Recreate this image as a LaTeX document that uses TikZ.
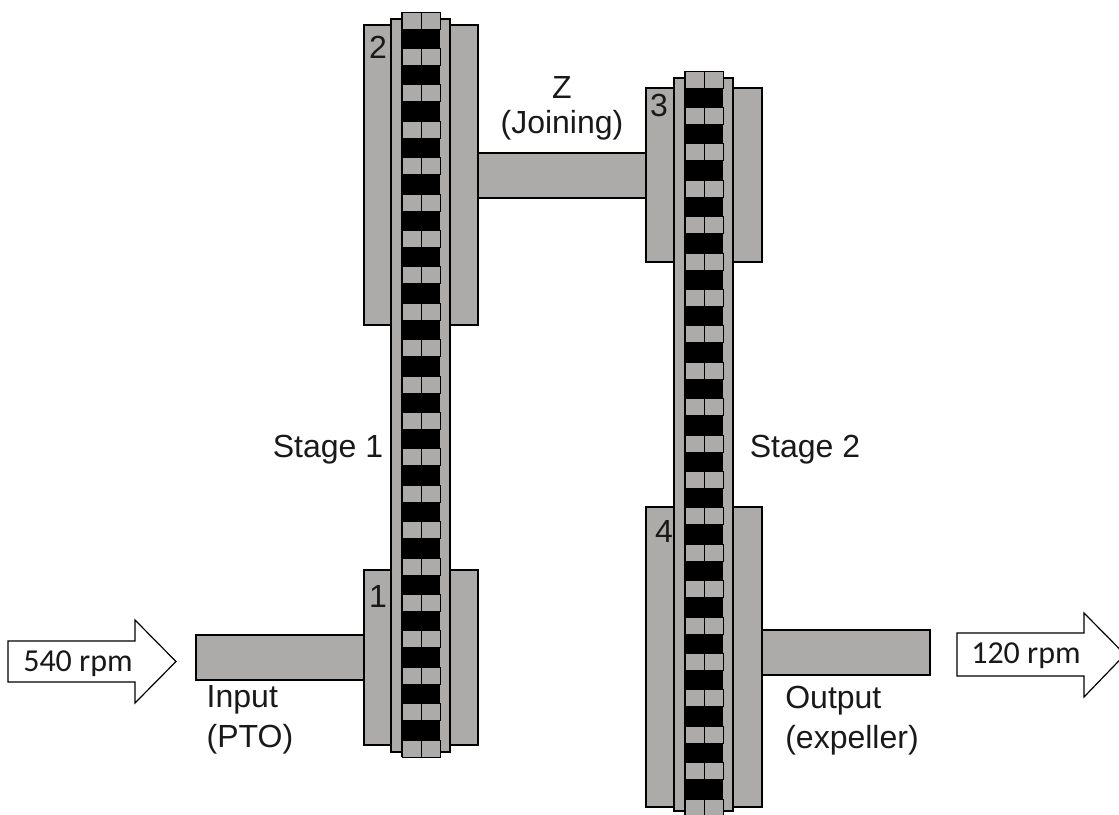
\documentclass[tikz,border=0pt]{standalone}
\usepackage{fontspec}
\setmainfont{Liberation Sans}
\newfontfamily\speedfont{Carlito}
\usetikzlibrary{positioning}
\definecolor{steel}{HTML}{ADABA9}

\begin{document}
\begin{tikzpicture}[
    x=1pt, y=-1pt,
    part/.style={draw=black, fill=steel, line width=1.6pt},
    roller/.style={draw=black, fill=steel, line width=1pt},
    bush/.style={draw=none, fill=black},
    flow/.style={draw=black, fill=white, line width=1.2pt, line join=miter},
    label/.style={font=\fontsize{32}{38}\selectfont, align=center, inner sep=0pt, text=black!90},
    speed/.style={font=\speedfont\fontsize{32}{38}\selectfont, inner sep=0pt, text=black!90},
]
\useasboundingbox (0,0) rectangle (1119,814);

% Shafts
\draw[part] (478,153) rectangle (646,198);
\draw[part] (196,635) rectangle (364,680);
\draw[part] (762,630) rectangle (930,675);

% Stage 1 sprockets
\draw[part] (364,25) rectangle (478,325);
\draw[part] (364,570) rectangle (478,745);
% Stage 2 sprockets
\draw[part] (646,88) rectangle (762,262);
\draw[part] (646,507) rectangle (762,807);

% Chains
\foreach \xl/\ytop in {391/19, 674/78} {
    \draw[part] (\xl,\ytop) rectangle ++(59,733);
    \fill[bush] (\xl+10,\ytop-7) rectangle ++(39,745);
}
\foreach \xl/\ytop in {402/12, 685/71} {
    \foreach \i in {0,...,20} {
        \draw[roller] (\xl,\ytop+36.4*\i) rectangle ++(19,17);
        \draw[roller] (\xl+19,\ytop+36.4*\i) rectangle ++(19,17);
    }
}

% Sprocket numbers
\node[label] (two) at (378,47) {2};
\node[label] (one) at (378,596) {1};
\node[label] (three) at (659,105) {3};
\node[label] (four) at (664,531) {4};

% Labels
\node[label] (joining) at (562,108) {Z\\[-3pt](Joining)};
\node[label] (stage1) at (328,450) {Stage 1};
\node[label] (stage2) at (805,450) {Stage 2};
\node[label, align=left] (input) at (250,720) {Input\\[2pt](PTO)};
\node[label, align=left] (output) at (852,721) {Output\\[2pt](expeller)};

% Speed arrows
\draw[flow] (8,641) -- (135,641) -- (135,620) -- (176,661.5) -- (135,703) -- (135,682) -- (8,682) -- cycle;
\node[speed] (inrpm) at (78,664) {540 rpm};
\draw[flow] (957,633) -- (1084,633) -- (1084,613) -- (1125,654.5) -- (1084,697) -- (1084,676) -- (957,676) -- cycle;
\node[speed] (outrpm) at (1026,656) {120 rpm};
\end{tikzpicture}
\end{document}
